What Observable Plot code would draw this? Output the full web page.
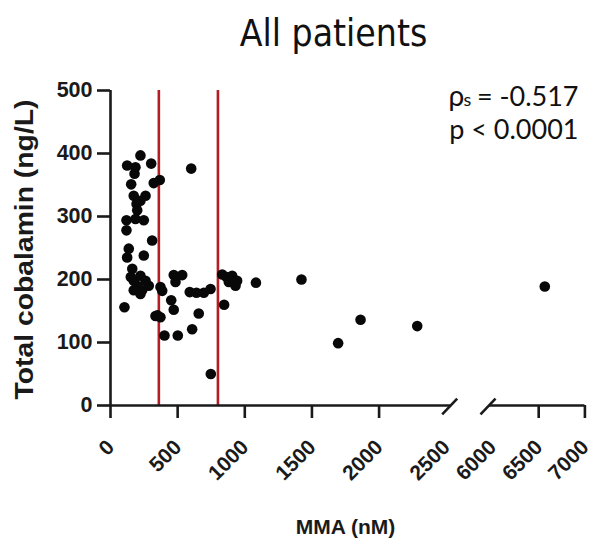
<!DOCTYPE html>
<html><head><meta charset="utf-8">
<script src="https://cdn.jsdelivr.net/npm/d3@7"></script>
<script src="https://cdn.jsdelivr.net/npm/@observablehq/plot@0.6"></script>
<style>
html,body{margin:0;padding:0;background:#fff;}
#chart svg{display:block;}
</style></head><body><div id="chart"></div>
<script>
const titleText = "All patients";
const xLabelText = "MMA (nM)";
const yLabelText = "Total cobalamin (ng/L)";
const rhoSymbol = "ρ";
const rhoSub = "s";
const rhoValue = "= -0.517";
const pText = "p < 0.0001";

// MMA (nM) and total cobalamin (ng/L), one entry per patient
const mma = [223,124,186,179,303,367,322,154,173,261,223,194,199,119,186,248,119,310,136,124,248,162,151,223,261,285,236,199,173,223,173,104,372,385,471,534,484,590,640,695,745,452,471,335,372,350,657,608,402,501,747,832,864,906,943,931,881,846,1083,1422,1862,1695,2284,6566,601];
const cobalamin = [397,381,378,368,384,358,353,351,333,333,325,320,310,294,296,294,278,262,249,235,238,217,204,206,198,190,183,190,198,177,183,156,188,182,207,207,196,180,179,179,185,167,152,142,140,143,146,121,111,111,50,208,204,206,198,190,196,160,195,200,136,99,126,189,376];

const thresholds = [360, 800];
const xTickMarks = [0, 500, 1000, 1500, 2000, 6500, 7000];
const xTickLabels = [0, 500, 1000, 1500, 2000, 2500, 6000, 6500, 7000];
const yTicks = [0, 100, 200, 300, 400, 500];
const xSegments = [{x1: 0, x2: 2540}, {x1: 5970, x2: 7000}];
const breakMarks = [{x1: 2470, x2: 3044, y1: -14, y2: 11}, {x1: 5141, x2: 6033, y1: -14, y2: 11}];

const points = mma.map((x, i) => ({x, y: cobalamin[i]}));
const ink = "#1a1a1a";
const sans = "'Liberation Sans', Arial, sans-serif";
const calib = "Lato, 'Open Sans', sans-serif";

const chart = Plot.plot({
  width: 592, height: 547,
  marginLeft: 110, marginRight: 8, marginTop: 90, marginBottom: 142,
  style: {background: "#fff", fontFamily: sans, color: ink, overflow: "visible"},
  x: {type: "linear", domain: [0, 2540, 5970, 7000], range: [110, 451.1, 489.2, 584.4]},
  y: {domain: [0, 500], range: [405, 90]},
  marks: [
    Plot.ruleX(thresholds, {y1: 0, y2: 500, stroke: "#b31d23", strokeWidth: 2.6}),
    Plot.dot(points, {x: "x", y: "y", r: 5.3, fill: "#080808", stroke: "none"}),
    Plot.ruleY(xSegments, {y: 0, x1: "x1", x2: "x2", stroke: ink, strokeWidth: 2.6}),
    Plot.ruleX([0], {y1: 0, y2: 500, stroke: ink, strokeWidth: 2.6}),
    Plot.link(breakMarks, {x1: "x1", x2: "x2", y1: "y1", y2: "y2", stroke: ink, strokeWidth: 2.6}),
    Plot.axisY({ticks: yTicks, tickSize: 13, tickPadding: 5, tickFormat: d => String(d), fontSize: 21.5, fontWeight: "bold", fontFamily: sans, stroke: ink, fill: ink, strokeWidth: 2.6, label: null}),
    Plot.axisX({ticks: xTickMarks, tickSize: 13, tickFormat: () => "", stroke: ink, strokeWidth: 2.6, label: null}),
    Plot.text(xTickLabels, {x: d => d, frameAnchor: "bottom", text: d => String(d), rotate: -45, textAnchor: "end", lineAnchor: "bottom", dx: 5, dy: 43, fontSize: 21, fontWeight: "bold", fontFamily: sans, fill: ink}),
    Plot.text([titleText], {frameAnchor: "top", text: d => d, lineAnchor: "bottom", dx: -14, dy: -45, fontSize: 37, fontFamily: "'DejaVu Sans Condensed', 'DejaVu Sans', sans-serif", fill: "#111"}),
    Plot.text([xLabelText], {frameAnchor: "bottom", text: d => d, lineAnchor: "bottom", dx: -2, dy: 128, fontSize: 21, fontWeight: "bold", fontFamily: sans, fill: ink}),
    Plot.text([yLabelText], {frameAnchor: "left", text: d => d, rotate: -90, lineAnchor: "bottom", textAnchor: "middle", dx: -78, dy: 1.5, fontSize: 25, fontWeight: "bold", fontFamily: sans, fill: ink}),
    Plot.text([rhoSymbol], {frameAnchor: "top-right", text: d => d, textAnchor: "start", lineAnchor: "bottom", dx: -136, dy: 15, fontSize: 28, fontFamily: calib, fill: "#111"}),
    Plot.text([rhoSub], {frameAnchor: "top-right", text: d => d, textAnchor: "start", lineAnchor: "bottom", dx: -121, dy: 15, fontSize: 18, fontFamily: calib, fill: "#111"}),
    Plot.text([rhoValue], {frameAnchor: "top-right", text: d => d, textAnchor: "end", lineAnchor: "bottom", dx: -6, dy: 15, fontSize: 27, fontFamily: calib, fill: "#111"}),
    Plot.text([pText], {frameAnchor: "top-right", text: d => d, textAnchor: "end", lineAnchor: "bottom", dx: -6, dy: 48, fontSize: 27, fontFamily: calib, fill: "#111"})
  ]
});

d3.select(chart).selectAll("text")
  .filter(function() { return this.textContent === yLabelText; })
  .attr("textLength", 300)
  .attr("lengthAdjust", "spacingAndGlyphs");

document.getElementById("chart").appendChild(chart);
</script>
</body></html>
